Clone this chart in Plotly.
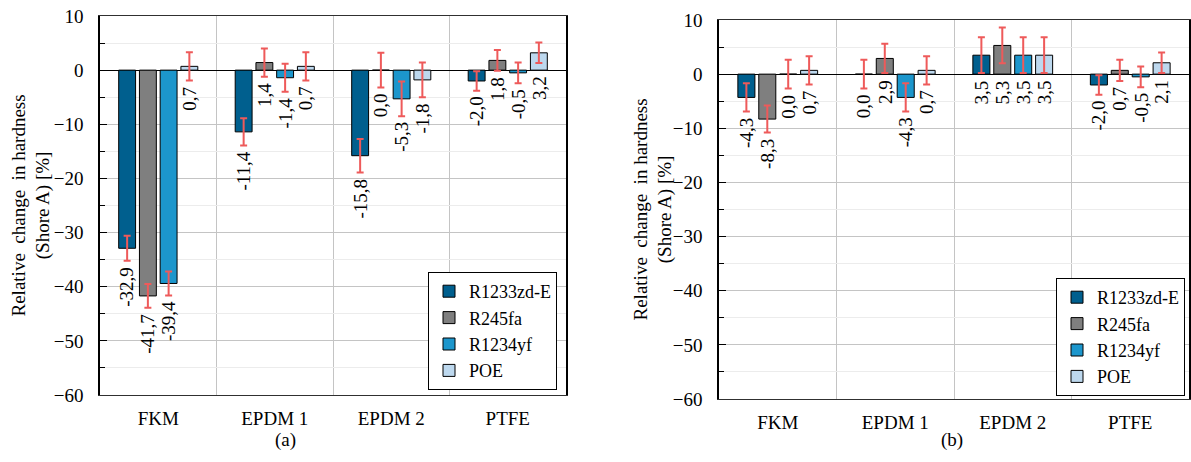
import plotly.graph_objects as go

# data
categories = ["FKM", "EPDM 1", "EPDM 2", "PTFE"]
series = ["R1233zd-E", "R245fa", "R1234yf", "POE"]
colors = ["#005f8e", "#7f7f7f", "#1c96cc", "#bdd8ee"]

# (a)
a_r1233 = [-32.9, -11.4, -15.8, -2.0]
a_r245 = [-41.7, 1.4, 0.0, 1.8]
a_r1234 = [-39.4, -1.4, -5.3, -0.5]
a_poe = [0.7, 0.7, -1.8, 3.2]
a_err_r1233 = [2.3, 2.5, 3.1, 1.8]
a_err_r245 = [2.2, 2.6, 3.2, 1.9]
a_err_r1234 = [2.2, 2.6, 3.2, 1.9]
a_err_poe = [2.6, 2.6, 3.2, 1.9]

# (b)
b_r1233 = [-4.3, 0.0, 3.5, -2.0]
b_r245 = [-8.3, 2.9, 5.3, 0.7]
b_r1234 = [0.0, -4.3, 3.5, -0.5]
b_poe = [0.7, 0.7, 3.5, 2.1]
b_err_r1233 = [2.6, 2.65, 3.3, 1.8]
b_err_r245 = [2.5, 2.7, 3.3, 1.95]
b_err_r1234 = [2.65, 2.6, 3.3, 1.9]
b_err_poe = [2.6, 2.6, 3.3, 1.9]

yticks = [10, 0, -10, -20, -30, -40, -50, -60]

FONT = "Liberation Serif"
ERR_COLOR = "#ee5a5a"
slot = 0.178      # spacing between bars inside a group (category units)
bar_w = 0.145

W, H = 1191, 462


def px(x):
    return x / W


def py(y):
    return 1 - y / H


panels = [
    dict(vals=[a_r1233, a_r245, a_r1234, a_poe],
         errs=[a_err_r1233, a_err_r245, a_err_r1234, a_err_poe],
         xdom=[px(100), px(566)], ydom=[py(395), py(16)],
         legend="legend", label="(a)", label_x=px(285), title_x=px(31)),
    dict(vals=[b_r1233, b_r245, b_r1234, b_poe],
         errs=[b_err_r1233, b_err_r245, b_err_r1234, b_err_poe],
         xdom=[px(719), px(1189)], ydom=[py(399), py(20)],
         legend="legend2", label="(b)", label_x=px(952), title_x=px(653)),
]

fig = go.Figure()
annotations = []
layout = {}

for p, panel in enumerate(panels):
    xa = "x" if p == 0 else "x3"
    ya = "y" if p == 0 else "y2"

    for j, name in enumerate(series):
        xs = [i + (j - 1.5) * slot for i in range(len(categories))]
        fig.add_trace(go.Bar(
            x=xs, y=panel["vals"][j], width=bar_w, name=name,
            marker=dict(color=colors[j], line=dict(color="black", width=1)),
            error_y=dict(type="data", array=panel["errs"][j], color=ERR_COLOR,
                         thickness=2, width=3.5),
            xaxis=xa, yaxis=ya, legend=panel["legend"]))
        for x, v, e in zip(xs, panel["vals"][j], panel["errs"][j]):
            annotations.append(dict(
                x=x, y=min(0, v - e), xref=xa, yref=ya,
                text=f"{v:.1f}".replace(".", ","), showarrow=False,
                textangle=-90, xanchor="center", yanchor="top", yshift=-4,
                font=dict(family=FONT, size=19, color="black")))

    ydom = panel["ydom"]
    zero_pos = ydom[0] + (ydom[1] - ydom[0]) * 60 / 70
    key = "" if p == 0 else str(p * 2 + 1)
    layout["xaxis" + key] = dict(
        domain=panel["xdom"], anchor=ya, range=[-0.5, 3.5], automargin=False,
        tickvals=list(range(len(categories))), ticktext=categories,
        ticks="", ticklabelstandoff=6, showgrid=False, zeroline=False,
        showline=True, mirror=True, linecolor="#303030", linewidth=1,
        minor=dict(tick0=0.5, dtick=1, showgrid=True,
                   gridcolor="#c4c4c4", gridwidth=1, ticks=""),
        tickfont=dict(family=FONT, size=19, color="black"))
    # horizontal axis crossing at zero
    layout["xaxis" + str(p * 2 + 2)] = dict(
        overlaying=xa, anchor="free", position=zero_pos, range=[-0.5, 3.5],
        automargin=False,
        tickvals=[0.5, 1.5, 2.5], showticklabels=False, ticks="inside",
        ticklen=4, tickcolor="black", showgrid=False, zeroline=False,
        showline=True, linecolor="black", linewidth=1.2,
        minor=dict(tick0=0.5, dtick=1, ticks="outside", ticklen=4,
                   tickcolor="black", showgrid=False))
    layout["yaxis" + ("" if p == 0 else "2")] = dict(
        domain=ydom, anchor=xa, range=[-60, 10], tickvals=yticks,
        automargin=False, ticklabeloverflow="allow",
        ticks="inside", ticklen=7, tickcolor="black", ticklabelstandoff=11,
        showgrid=True, gridcolor="#c4c4c4",
        zeroline=True, zerolinecolor="black", zerolinewidth=1.2,
        showline=True, mirror=True, linecolor="black", linewidth=1.5,
        minor=dict(dtick=5, showgrid=True, gridcolor="#ececec",
                   ticks="inside", ticklen=5, tickcolor="black"),
        tickfont=dict(family=FONT, size=19, color="black"))

    annotations.append(dict(
        x=panel["title_x"], y=(ydom[0] + ydom[1]) / 2, xref="paper", yref="paper",
        text="Relative\u00a0\u00a0change\u00a0\u00a0in hardness<br>(Shore A) [%]",
        textangle=-90, showarrow=False, xanchor="center", yanchor="middle",
        font=dict(family=FONT, size=19, color="black")))
    annotations.append(dict(
        x=panel["label_x"], y=py(440), xref="paper", yref="paper",
        text=panel["label"], showarrow=False, xanchor="center", yanchor="middle",
        font=dict(family=FONT, size=19, color="black")))

legend_style = dict(bgcolor="white", bordercolor="black", borderwidth=1,
                    font=dict(family=FONT, size=18, color="black"),
                    xanchor="right", yanchor="bottom", tracegroupgap=0,
                    itemwidth=30)

fig.update_layout(
    width=W, height=H,
    margin=dict(l=0, r=0, t=0, b=0, autoexpand=False),
    paper_bgcolor="white", plot_bgcolor="white",
    barmode="overlay",
    annotations=annotations,
    legend=dict(x=px(557), y=py(390), **legend_style),
    legend2=dict(x=px(1185), y=py(396), **legend_style),
    font=dict(family=FONT, size=19, color="black"),
    **layout)

# drop the default page margin so the figure sits at the window corner
fig.write_html("out.html", config={"displayModeBar": False},
               post_script="document.body.style.margin = '0';")
